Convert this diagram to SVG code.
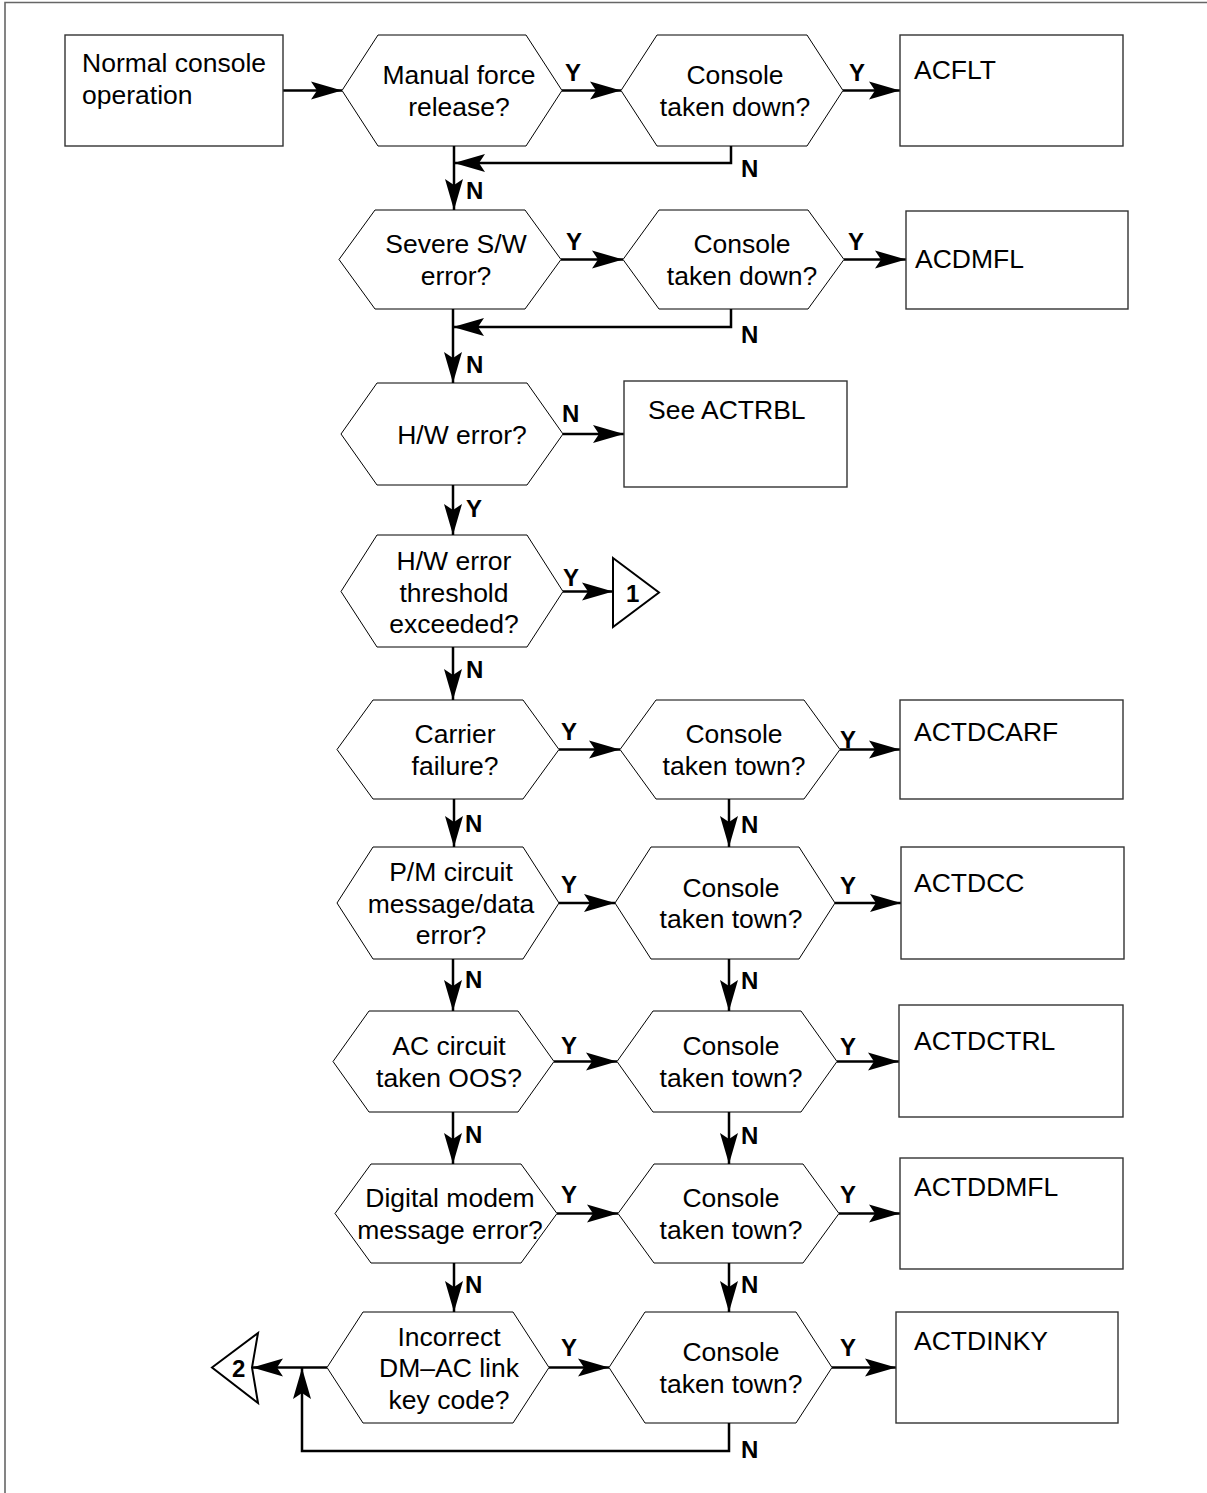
<svg xmlns="http://www.w3.org/2000/svg" width="1207" height="1493" viewBox="0 0 1207 1493">
<style>
.t{font-family:"Liberation Sans",Arial,sans-serif;font-size:26.5px;fill:#000}
.c{text-anchor:middle}
.l{font-family:"Liberation Sans",Arial,sans-serif;font-size:24px;font-weight:bold;fill:#000}
.hex{fill:#fff;stroke:#000;stroke-width:1}
.box{fill:#fff;stroke:#333;stroke-width:1.4}
.off{fill:#fff;stroke:#000;stroke-width:2}
.cn{fill:none;stroke:#000;stroke-width:2.5}
</style>
<defs>
<marker id="ah" markerUnits="userSpaceOnUse" markerWidth="34" markerHeight="22" viewBox="-32 -11 34 22" refX="0" refY="0" orient="auto">
<path d="M0,0 L-31,-9 L-25,0 L-31,9 Z" fill="#000"/>
</marker>
</defs>
<rect width="1207" height="1493" fill="#fff"/>
<g id="frame" fill="none" stroke="#666" stroke-width="1.6">
<path d="M5,1493 V2.5 H1207"/>
</g>

<g id="connectors">
<path class="cn" marker-end="url(#ah)" d="M283,90.5 H342"/>
<path class="cn" marker-end="url(#ah)" d="M562,90.5 H621"/>
<path class="cn" marker-end="url(#ah)" d="M843,90.5 H900"/>
<path class="cn" marker-end="url(#ah)" d="M731,146 V163 H454"/>
<path class="cn" marker-end="url(#ah)" d="M454,146 V210"/>
<path class="cn" marker-end="url(#ah)" d="M561,259.5 H623"/>
<path class="cn" marker-end="url(#ah)" d="M844,259.5 H906"/>
<path class="cn" marker-end="url(#ah)" d="M731,309 V327 H453"/>
<path class="cn" marker-end="url(#ah)" d="M453,309 V383"/>
<path class="cn" marker-end="url(#ah)" d="M563,434 H624"/>
<path class="cn" marker-end="url(#ah)" d="M453,485 V535"/>
<path class="cn" marker-end="url(#ah)" d="M563,591.5 H613"/>
<path class="cn" marker-end="url(#ah)" d="M453,647 V700"/>
<path class="cn" marker-end="url(#ah)" d="M559,749.5 H620"/>
<path class="cn" marker-end="url(#ah)" d="M840,749.5 H900"/>
<path class="cn" marker-end="url(#ah)" d="M454,799 V847"/>
<path class="cn" marker-end="url(#ah)" d="M729,799 V847"/>
<path class="cn" marker-end="url(#ah)" d="M559,903 H615"/>
<path class="cn" marker-end="url(#ah)" d="M835,903 H901"/>
<path class="cn" marker-end="url(#ah)" d="M453,959 V1011"/>
<path class="cn" marker-end="url(#ah)" d="M729,959 V1011"/>
<path class="cn" marker-end="url(#ah)" d="M554,1061.5 H617"/>
<path class="cn" marker-end="url(#ah)" d="M837,1061.5 H899"/>
<path class="cn" marker-end="url(#ah)" d="M453,1112 V1164"/>
<path class="cn" marker-end="url(#ah)" d="M729,1112 V1164"/>
<path class="cn" marker-end="url(#ah)" d="M557,1213.5 H618"/>
<path class="cn" marker-end="url(#ah)" d="M839,1213.5 H900"/>
<path class="cn" marker-end="url(#ah)" d="M454,1263 V1312"/>
<path class="cn" marker-end="url(#ah)" d="M729,1263 V1312"/>
<path class="cn" marker-end="url(#ah)" d="M549,1367.5 H609"/>
<path class="cn" marker-end="url(#ah)" d="M832,1367.5 H896"/>
<path class="cn" marker-end="url(#ah)" d="M327,1367.5 H252"/>
<path class="cn" marker-end="url(#ah)" d="M729,1423 V1451 H302 V1368"/>
<g id="connector-labels">
<text class="l" x="565" y="81">Y</text>
<text class="l" x="849" y="81">Y</text>
<text class="l" x="741" y="177">N</text>
<text class="l" x="466" y="199">N</text>
<text class="l" x="566" y="250">Y</text>
<text class="l" x="848" y="250">Y</text>
<text class="l" x="741" y="343">N</text>
<text class="l" x="466" y="373">N</text>
<text class="l" x="562" y="422">N</text>
<text class="l" x="466" y="517">Y</text>
<text class="l" x="563" y="586">Y</text>
<text class="l" x="466" y="678">N</text>
<text class="l" x="561" y="740">Y</text>
<text class="l" x="840" y="748">Y</text>
<text class="l" x="465" y="832">N</text>
<text class="l" x="741" y="833">N</text>
<text class="l" x="561" y="893">Y</text>
<text class="l" x="840" y="894">Y</text>
<text class="l" x="465" y="988">N</text>
<text class="l" x="741" y="989">N</text>
<text class="l" x="561" y="1054">Y</text>
<text class="l" x="840" y="1055">Y</text>
<text class="l" x="465" y="1143">N</text>
<text class="l" x="741" y="1144">N</text>
<text class="l" x="561" y="1203">Y</text>
<text class="l" x="840" y="1203">Y</text>
<text class="l" x="465" y="1293">N</text>
<text class="l" x="741" y="1293">N</text>
<text class="l" x="561" y="1356">Y</text>
<text class="l" x="840" y="1356">Y</text>
<text class="l" x="741" y="1458">N</text>
</g>
</g>

<g id="n-normal"><rect class="box" x="65" y="35" width="218" height="111"/>
<text class="t" x="82" y="72">Normal console</text><text class="t" x="82" y="103.5">operation</text></g>

<g id="n-manual"><polygon class="hex" points="342,90.5 378,35 526,35 562,90.5 526,146 378,146"/>
<text class="t c" x="459" y="84">Manual force</text><text class="t c" x="459" y="115.5">release?</text></g>
<g id="n-console1"><polygon class="hex" points="621,90.5 657,35 807,35 843,90.5 807,146 657,146"/>
<text class="t c" x="735" y="84">Console</text><text class="t c" x="735" y="115.5">taken down?</text></g>
<g id="n-acflt"><rect class="box" x="900" y="35" width="223" height="111"/>
<text class="t" x="914" y="79">ACFLT</text></g>

<g id="n-severe"><polygon class="hex" points="339,259.5 375,210 525,210 561,259.5 525,309 375,309"/>
<text class="t c" x="456" y="253">Severe S/W</text><text class="t c" x="456" y="284.5">error?</text></g>
<g id="n-console2"><polygon class="hex" points="623,259.5 659,210 808,210 844,259.5 808,309 659,309"/>
<text class="t c" x="742" y="253">Console</text><text class="t c" x="742" y="284.5">taken down?</text></g>
<g id="n-acdmfl"><rect class="box" x="906" y="211" width="222" height="98"/>
<text class="t" x="915" y="268">ACDMFL</text></g>

<g id="n-hw"><polygon class="hex" points="341,434 377,383 527,383 563,434 527,485 377,485"/>
<text class="t c" x="462" y="443.5">H/W error?</text></g>
<g id="n-actrbl"><rect class="box" x="624" y="381" width="223" height="106"/>
<text class="t" x="648" y="419">See ACTRBL</text></g>

<g id="n-threshold"><polygon class="hex" points="341,591.5 377,535 527,535 563,591.5 527,647 377,647"/>
<text class="t c" x="454" y="570">H/W error</text><text class="t c" x="454" y="601.5">threshold</text><text class="t c" x="454" y="633">exceeded?</text></g>
<g id="n-off1"><polygon class="off" points="613,558 659,592.5 613,627"/>
<text class="l" x="626" y="601.5">1</text></g>

<g id="n-carrier"><polygon class="hex" points="337,749.5 373,700 523,700 559,749.5 523,799 373,799"/>
<text class="t c" x="455" y="743">Carrier</text><text class="t c" x="455" y="774.5">failure?</text></g>
<g id="n-console3"><polygon class="hex" points="620,749.5 656,700 804,700 840,749.5 804,799 656,799"/>
<text class="t c" x="734" y="743">Console</text><text class="t c" x="734" y="774.5">taken town?</text></g>
<g id="n-actdcarf"><rect class="box" x="900" y="700" width="223" height="99"/>
<text class="t" x="914" y="741">ACTDCARF</text></g>

<g id="n-pm"><polygon class="hex" points="337,903 373,847 523,847 559,903 523,959 373,959"/>
<text class="t c" x="451" y="881">P/M circuit</text><text class="t c" x="451" y="912.5">message/data</text><text class="t c" x="451" y="944">error?</text></g>
<g id="n-console4"><polygon class="hex" points="615,903 651,847 799,847 835,903 799,959 651,959"/>
<text class="t c" x="731" y="896.5">Console</text><text class="t c" x="731" y="928">taken town?</text></g>
<g id="n-actdcc"><rect class="box" x="901" y="847" width="223" height="112"/>
<text class="t" x="914" y="892">ACTDCC</text></g>

<g id="n-ac"><polygon class="hex" points="333,1061.5 369,1011 518,1011 554,1061.5 518,1112 369,1112"/>
<text class="t c" x="449" y="1055">AC circuit</text><text class="t c" x="449" y="1086.5">taken OOS?</text></g>
<g id="n-console5"><polygon class="hex" points="617,1061.5 653,1011 801,1011 837,1061.5 801,1112 653,1112"/>
<text class="t c" x="731" y="1055">Console</text><text class="t c" x="731" y="1086.5">taken town?</text></g>
<g id="n-actdctrl"><rect class="box" x="899" y="1005" width="224" height="112"/>
<text class="t" x="914" y="1050">ACTDCTRL</text></g>

<g id="n-digital"><polygon class="hex" points="335,1213.5 371,1164 521,1164 557,1213.5 521,1263 371,1263"/>
<text class="t c" x="450" y="1207">Digital modem</text><text class="t c" x="450" y="1238.5">message error?</text></g>
<g id="n-console6"><polygon class="hex" points="618,1213.5 654,1164 803,1164 839,1213.5 803,1263 654,1263"/>
<text class="t c" x="731" y="1207">Console</text><text class="t c" x="731" y="1238.5">taken town?</text></g>
<g id="n-actddmfl"><rect class="box" x="900" y="1158" width="223" height="111"/>
<text class="t" x="914" y="1196">ACTDDMFL</text></g>

<g id="n-incorrect"><polygon class="hex" points="327,1367.5 363,1312 513,1312 549,1367.5 513,1423 363,1423"/>
<text class="t c" x="449" y="1345.5">Incorrect</text><text class="t c" x="449" y="1377">DM–AC link</text><text class="t c" x="449" y="1408.5">key code?</text></g>
<g id="n-console7"><polygon class="hex" points="609,1367.5 645,1312 796,1312 832,1367.5 796,1423 645,1423"/>
<text class="t c" x="731" y="1361">Console</text><text class="t c" x="731" y="1392.5">taken town?</text></g>
<g id="n-actdinky"><rect class="box" x="896" y="1312" width="222" height="111"/>
<text class="t" x="914" y="1350">ACTDINKY</text></g>

<g id="n-off2"><polygon class="off" points="212,1367.5 258,1333 252,1367.5 258,1403"/>
<text class="l" x="232" y="1376.5">2</text></g>
</svg>
